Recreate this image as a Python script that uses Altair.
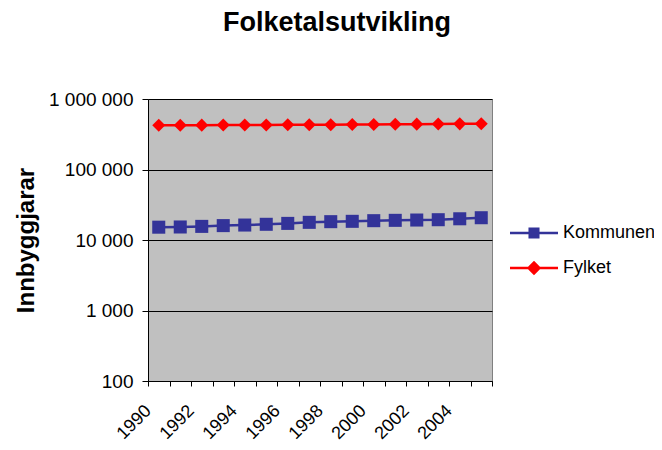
import altair as alt
import pandas as pd

FONT = "Liberation Sans"

years = list(range(1990, 2006))
kommunen = [15200, 15300, 15600, 16000, 16300, 16700, 17200, 17800,
            18200, 18400, 18800, 19000, 19200, 19400, 20000, 20700]
fylket = [424000, 425000, 426000, 427000, 428000, 429000, 430000, 431000,
          432000, 434000, 436000, 438000, 440000, 442000, 444000, 447000]

series = ["Kommunen", "Fylket"]
colors = ["#333399", "#FF0000"]
marker_shapes = ["square", "diamond"]
legend_shapes = [
    "M-1,-0.05H1V0.05H-1Z M-0.23,-0.23H0.23V0.23H-0.23Z",
    "M-1,-0.05H1V0.05H-1Z M0,-0.3L0.3,0L0,0.3L-0.3,0Z",
]
y_ticks = [100, 1000, 10000, 100000, 1000000]
x_ticks = [v - 0.5 for v in range(1990, 2007)]

rows = []
for name, vals in zip(series, [kommunen, fylket]):
    for yr, v in zip(years, vals):
        rows.append({"year": yr, "value": v, "series": name})
df = pd.DataFrame(rows)

x = alt.X(
    "year:Q",
    scale=alt.Scale(domain=[1989.5, 2005.5], nice=False, zero=False),
    axis=alt.Axis(
        values=x_ticks,
        labelExpr="(datum.value + 0.5) % 2 == 0 && datum.value < 2005 ? format(datum.value + 0.5, 'd') : ''",
        labelAngle=-45, labelAlign="right", labelBaseline="middle",
        labelPadding=22, tickSize=5, grid=False, title=None,
        labelFontSize=18, labelFont=FONT, labelColor="black",
        domainColor="black", tickColor="black", labelOverlap=False,
        labelFlush=False, labelBound=False,
    ),
)
y = alt.Y(
    "value:Q",
    scale=alt.Scale(type="log", domain=[100, 1000000], nice=False),
    axis=alt.Axis(
        values=y_ticks,
        labelExpr="replace(format(datum.value, ','), regexp(',', 'g'), ' ')",
        grid=True, gridColor="black", gridWidth=1,
        tickSize=6, labelPadding=9, tickColor="black", domainColor="black",
        title="Innbyggjarar", titleFontSize=24, titleFont=FONT,
        titleFontWeight="bold", titleColor="black", titlePadding=10,
        labelFontSize=19, labelFont=FONT, labelColor="black",
    ),
)

base = alt.Chart(df)

lines = base.mark_line(strokeWidth=2.5).encode(
    x=x, y=y,
    color=alt.Color("series:N", scale=alt.Scale(domain=series, range=colors), legend=None),
)
points = base.mark_point(filled=True, size=170, opacity=1, strokeWidth=0).encode(
    x=x, y=y,
    color=alt.Color("series:N", scale=alt.Scale(domain=series, range=colors), legend=None),
    shape=alt.Shape("series:N", scale=alt.Scale(domain=series, range=marker_shapes), legend=None),
)
leg = alt.Legend(
    orient="none", legendX=362, legendY=110, title=None,
    symbolSize=2304, labelFontSize=18, labelFont=FONT, labelColor="black",
    labelOffset=5, rowPadding=2, symbolOpacity=1, symbolStrokeWidth=0,
)
legend_layer = base.mark_point(filled=True, opacity=0).encode(
    x=x, y=y,
    color=alt.Color("series:N", scale=alt.Scale(domain=series, range=colors), legend=leg),
    shape=alt.Shape("series:N", scale=alt.Scale(domain=series, range=legend_shapes), legend=leg),
)

chart = (
    alt.layer(lines, points, legend_layer)
    .resolve_scale(color="independent", shape="independent")
    .properties(
        width=344, height=282,
        title=alt.TitleParams(
            text="Folketalsutvikling", fontSize=27, font=FONT, fontWeight="bold",
            color="black", anchor="middle", dx=17, offset=53,
        ),
        autosize=alt.AutoSizeParams(type="none"),
        padding={"left": 140, "top": 91, "right": 162, "bottom": 61},
    )
    .configure_view(fill="#C0C0C0", stroke="#808080", strokeWidth=1)
)

chart.save("out.html", embed_options={"renderer": "svg", "actions": False})
